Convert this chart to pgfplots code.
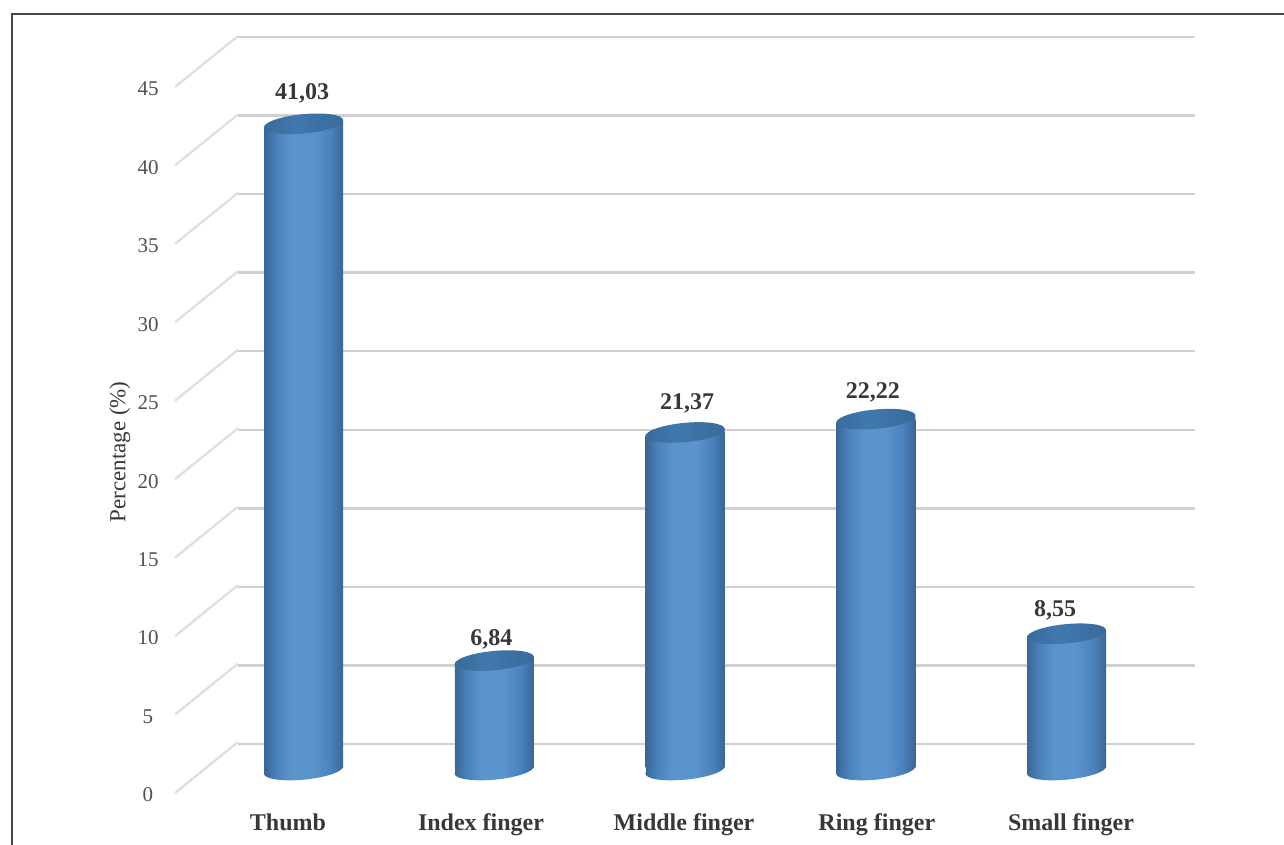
\documentclass[border=0pt]{standalone}
\usepackage{fontspec}
\setmainfont{Liberation Serif}
\usepackage{pgfplots}
\usepackage{pgfplotstable}
\pgfplotsset{compat=1.18}

\definecolor{frameline}{HTML}{474747}
\definecolor{gridgray}{HTML}{D0D0D0}
\definecolor{sidegray}{HTML}{DEDEDE}
\definecolor{tickgray}{HTML}{505050}
\definecolor{labelgray}{HTML}{383838}
\definecolor{capmid}{HTML}{4078AE}
\definecolor{capedge}{HTML}{3A6A9B}
\definecolor{rimdark}{HTML}{3A6694}
\definecolor{bodymid}{HTML}{4A82BC}
\definecolor{bodylight}{HTML}{5B94CD}

% Horizontal light falloff across a cylinder
\pgfdeclarehorizontalshading{cylbody}{100bp}{
  color(0bp)=(rimdark);
  color(25bp)=(rimdark);
  color(33bp)=(bodymid);
  color(42bp)=(bodylight);
  color(56bp)=(bodylight);
  color(67bp)=(bodymid);
  color(75bp)=(rimdark);
  color(100bp)=(rimdark)}
\pgfdeclarehorizontalshading{cylcap}{100bp}{
  color(0bp)=(capedge);
  color(25bp)=(capedge);
  color(45bp)=(capmid);
  color(75bp)=(capedge);
  color(100bp)=(capedge)}

% Closing ellipse at the foot of a cylinder, tilted with the view
\pgfdeclareplotmark{cylfoot}{%
  \fill[draw=none, rimdark] (-19.75pt,-2.9pt) rectangle (-15pt,0.5pt);
  \pgfpathellipse{\pgfpoint{0pt}{-1pt}}{\pgfpoint{19.8pt}{1.9pt}}{\pgfpoint{-0.46pt}{4.8pt}}%
  \pgfshadepath{cylbody}{0}%
  \pgfusepath{discard}%
}
% Top face of a cylinder, with the body's square corners trimmed beneath it
\pgfdeclareplotmark{cylcap}{%
  \fill[draw=none, white] (-21pt,-1.9pt) rectangle (-3pt,0.7pt);
  \fill[draw=none, rimdark] (15pt,-0.2pt) -- (19.75pt,-0.2pt) -- (19.75pt,1.9pt) -- (15pt,1.7pt) -- cycle;
  \pgfpathellipse{\pgfpoint{0pt}{0pt}}{\pgfpoint{19.8pt}{1.9pt}}{\pgfpoint{-0.46pt}{4.8pt}}%
  \pgfshadepath{cylcap}{0}%
  \pgfusepath{discard}%
}

\pgfplotstableread{
pos value base label dx dy
0 41.03 0 41,03 -0.75 15.0
1  6.84 0 6,84  -1.5  10.5
2 21.37 0 21,37  1.0  14.3
3 22.22 0 22,22 -1.5  13.5
4  8.55 0 8,55  -5.75 11.5
}\fingers

\begin{document}
\begin{tikzpicture}
\path[use as bounding box] (0,0) rectangle (642pt,422.5pt);
\draw[frameline, line width=1.1pt] (6pt,-2pt) -- (6pt,415.3pt) -- (644pt,415.3pt);

% Back wall with its horizontal rules
\begin{axis}[
  at={(119pt,50.5pt)}, anchor=south west,
  scale only axis, width=478.5pt, height=353.5pt,
  xmin=0, xmax=1, ymin=0, ymax=45,
  ytick={0,5,...,45}, xtick=\empty, yticklabels={},
  major tick length=0pt,
  ymajorgrids, grid style={gridgray, line width=1.2pt},
  axis line style={draw=none},
]
\end{axis}

% Front plane: value scale, category names and the side wall
\begin{axis}[
  at={(87.5pt,26pt)}, anchor=south west,
  scale only axis, width=448pt, height=353pt,
  xmin=-0.5773, xmax=4, ymin=0, ymax=45,
  clip=false,
  axis line style={draw=none},
  major tick length=0pt,
  ytick={0,5,...,45},
  xtick={0,0.986,2.023,3.008,4},
  xticklabels={Thumb,Index finger,Middle finger,Ring finger,Small finger},
  /pgf/number format/assume math mode=true,
  yticklabel style={font=\fontsize{10.5}{12}\selectfont, text=tickgray, anchor=center, xshift=-13.5pt, yshift=-1pt},
  xticklabel style={font=\fontsize{12}{14}\selectfont\bfseries, text=labelgray, anchor=base, yshift=-19pt},
  ylabel={Percentage (\%)},
  ylabel style={font=\fontsize{11.5}{13}\selectfont, text=labelgray, at={(axis description cs:-0.0615,0.483)}, anchor=center, rotate=0},
  unbounded coords=jump,
]
\addplot[sidegray, line width=1.1pt] table {
-0.5773 0
-0.2554 3.25
nan nan
-0.5773 5
-0.2554 8.25
nan nan
-0.5773 10
-0.2554 13.25
nan nan
-0.5773 15
-0.2554 18.25
nan nan
-0.5773 20
-0.2554 23.25
nan nan
-0.5773 25
-0.2554 28.25
nan nan
-0.5773 30
-0.2554 33.25
nan nan
-0.5773 35
-0.2554 38.25
nan nan
-0.5773 40
-0.2554 43.25
nan nan
-0.5773 45
-0.2554 48.25
};
\end{axis}

% Cylinders with their value labels
\begin{axis}[
  at={(151.75pt,38.5pt)}, anchor=south west,
  scale only axis, width=381.5pt, height=353.25pt,
  xmin=0, xmax=4, ymin=0, ymax=45,
  clip=false, hide axis,
  cylinder body/.style={ybar, bar width=39.5pt, draw=none, shading=cylbody},
]
\addplot[only marks, mark=cylfoot] table[x=pos, y=base] {\fingers};
\addplot[cylinder body] coordinates {(0,41.03)};
\addplot[cylinder body] coordinates {(1,6.84)};
\addplot[cylinder body] coordinates {(2,21.37)};
\addplot[cylinder body] coordinates {(3,22.22)};
\addplot[cylinder body] coordinates {(4,8.55)};
\addplot[only marks, mark=cylcap,
  visualization depends on={\thisrow{dx} \as \labdx},
  visualization depends on={\thisrow{dy} \as \labdy},
  point meta=explicit symbolic,
  nodes near coords,
  nodes near coords style={font=\fontsize{12}{14}\selectfont\bfseries, text=labelgray,
    anchor=center, xshift=\labdx pt, yshift=\labdy pt},
] table[x=pos, y=value, meta=label] {\fingers};
\end{axis}
\end{tikzpicture}
\end{document}
